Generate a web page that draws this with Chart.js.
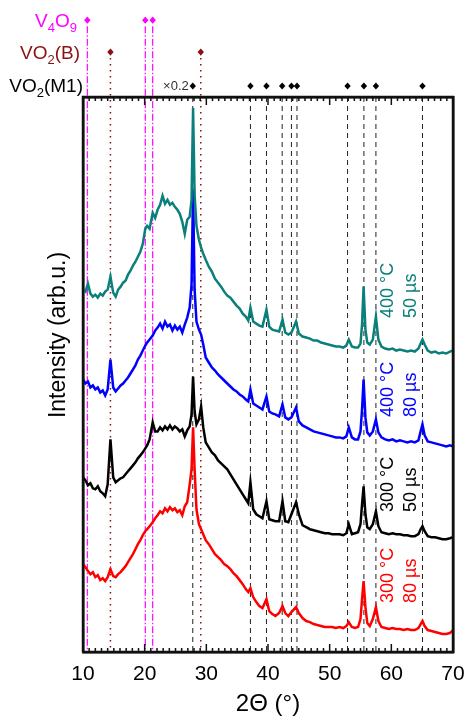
<!DOCTYPE html>
<html>
<head>
<meta charset="utf-8">
<script src="https://cdn.jsdelivr.net/npm/chart.js@4.4.1/dist/chart.umd.min.js"></script>
<style>
    body { margin: 0; background: #fff; }
    canvas { display: block; }
</style>
</head>
<body>
<canvas id="xrd-chart" width="466" height="721"></canvas>
<script>
// 2theta grid shared by all four patterns
const twoTheta = [
    10.0, 10.4, 10.8, 11.2, 11.6, 12.0, 12.4, 12.8, 13.2, 13.6,
    14.0, 14.45, 14.9, 15.3, 15.7, 16.1, 16.5, 16.9, 17.3, 17.7,
    18.1, 18.5, 18.9, 19.3, 19.7, 20.1, 20.4, 20.8, 21.3, 21.7,
    22.1, 22.5, 22.9, 23.3, 23.7, 24.1, 24.5, 24.9, 25.3, 25.7,
    26.1, 26.5, 26.9, 27.3, 27.6, 27.85, 28.1, 28.4, 28.8, 29.15,
    29.5, 29.9, 30.4, 30.9, 31.4, 31.9, 32.4, 32.9, 33.4, 33.9,
    34.4, 34.9, 35.4, 35.9, 36.4, 36.8, 37.15, 37.6, 38.1, 38.6,
    39.1, 39.75, 40.2, 40.7, 41.2, 41.8, 42.35, 42.8, 43.3, 43.8,
    44.55, 45.0, 45.6, 46.2, 46.8, 47.4, 48.0, 48.6, 49.2, 49.8,
    50.4, 51.0, 51.6, 52.2, 52.7, 53.1, 53.6, 54.1, 54.6, 55.0,
    55.25, 55.5, 55.8, 56.1, 56.5, 57.0, 57.5, 57.9, 58.4, 59.0,
    59.6, 60.2, 60.8, 61.4, 62.0, 62.6, 63.2, 63.8, 64.4, 64.75,
    65.05, 65.4, 65.9, 66.5, 67.1, 67.7, 68.3, 68.9, 69.5, 70.0
];

// intensities (arb.u., already offset for stacking)
const int400c50us = [
    363, 361, 369, 359, 356, 358, 355, 359, 357, 361,
    363, 376, 360, 356, 363, 366, 370, 372, 378, 382,
    387, 391, 396, 401, 409, 424, 427, 424, 440, 435,
    443, 448, 457, 449, 453, 448, 450, 446, 443, 439,
    431, 419, 433, 436, 453, 545, 458, 427, 413, 405,
    399, 393, 386, 381, 374, 370, 366, 361, 357, 355,
    351, 347, 344, 339, 336, 332, 345, 331, 329, 327,
    326, 343, 326, 323, 322, 321, 333, 320, 318, 320,
    331, 319, 316, 315, 314, 312, 312, 310, 309, 308,
    307, 306, 306, 305, 307, 313, 306, 305, 305, 309,
    328, 366, 323, 310, 308, 313, 336, 313, 306, 304,
    303, 304, 302, 303, 302, 301, 302, 301, 304, 309,
    313, 308, 302, 300, 301, 299, 300, 299, 301, 302
];
const int400c80us = [
    273, 269, 271, 265, 267, 263, 265, 260, 262, 257,
    263, 293, 265, 261, 264, 267, 269, 272, 275, 279,
    283, 287, 293, 297, 302, 307, 310, 313, 317, 322,
    325, 329, 324, 331, 326, 328, 322, 327, 323, 326,
    320, 328, 335, 345, 368, 463, 363, 331, 323, 318,
    308, 295, 290, 285, 282, 278, 275, 272, 269, 266,
    263, 261, 258, 256, 253, 251, 263, 249, 247, 245,
    243, 256, 241, 239, 238, 236, 248, 235, 233, 235,
    245, 231, 227, 225, 223, 221, 220, 219, 218, 217,
    216, 215, 215, 214, 216, 225, 215, 213, 213, 221,
    243, 273, 235, 220, 217, 221, 233, 220, 215, 213,
    212, 213, 211, 212, 211, 210, 211, 210, 212, 221,
    228, 217, 211, 210, 209, 208, 207, 206, 207, 206
];
const int300c50us = [
    175, 172, 167, 169, 164, 163, 166, 161, 159, 156,
    168, 213, 175, 170, 172, 174, 175, 178, 181, 184,
    187, 190, 194, 197, 200, 204, 207, 213, 230, 221,
    221, 225, 222, 226, 223, 227, 223, 226, 224, 221,
    223, 216, 222, 226, 238, 276, 241, 228, 233, 246,
    225, 210, 205, 200, 197, 192, 189, 186, 183, 178,
    173, 168, 163, 158, 153, 149, 170, 143, 138, 136,
    134, 151, 133, 132, 131, 131, 151, 131, 130, 138,
    150, 138, 127, 125, 123, 122, 121, 120, 119, 119,
    118, 118, 118, 117, 119, 128, 118, 119, 120, 128,
    148, 166, 138, 125, 123, 128, 141, 126, 120, 119,
    118, 119, 118, 118, 117, 117, 116, 116, 118, 123,
    126, 121, 116, 115, 115, 114, 113, 113, 114, 115
];
const int300c80us = [
    88, 85, 81, 78, 80, 75, 77, 72, 74, 71,
    75, 83, 76, 75, 78, 80, 83, 86, 90, 94,
    98, 103, 108, 112, 117, 121, 123, 126, 130, 134,
    137, 141, 139, 144, 141, 145, 142, 144, 140, 142,
    137, 146, 150, 168, 183, 225, 183, 143, 128, 123,
    118, 112, 108, 103, 98, 95, 92, 88, 86, 83,
    79, 76, 72, 68, 63, 60, 64, 55, 50, 46,
    44, 53, 41, 38, 36, 39, 46, 39, 36, 40,
    45, 39, 34, 31, 30, 28, 27, 26, 25, 25,
    25, 24, 25, 24, 26, 30, 25, 24, 25, 33,
    53, 71, 45, 29, 26, 33, 45, 31, 25, 24,
    23, 24, 23, 23, 22, 23, 22, 22, 24, 28,
    31, 26, 22, 21, 20, 19, 18, 18, 19, 22
];

// reference peak positions (2theta)
const v4o9Peaks = [10.7, 20.1, 21.3];
const vo2bPeaks = [14.45, 29.1];
const vo2m1Peaks = [27.8, 37.15, 39.75, 42.3, 43.8, 44.7, 52.9, 55.55, 57.5, 65.05];

const xTicks = [10, 20, 30, 40, 50, 60, 70];
const xMin = 10;
const xMax = 70;
const yMax = 556;
// marker rows sit above the frame, in intensity units
const rowV4O9 = 633;
const rowVO2B = 601;
const rowVO2M1 = 567;

const FONT = "'Liberation Sans', Arial, sans-serif";
const TEAL = '#0b7f7a';
const DARKRED = '#8b1010';
const MAGENTA = '#ff00ff';
const FRAME = '#111111';

function curve(values, color) {
    return {
        data: twoTheta.map((t, i) => ({ x: t, y: values[i] })),
        borderColor: color,
        borderWidth: 2.5,
        pointRadius: 0,
        order: 0
    };
}

function refLines(peaks, top, color, width, dash) {
    return peaks.map(p => ({
        data: [{ x: p, y: top }, { x: p, y: 0 }],
        borderColor: color,
        borderWidth: width,
        borderDash: dash,
        pointRadius: 0,
        clip: false,
        order: 2
    }));
}

// inward tick marks, one short segment per degree, broken by nulls
function tickMarks(edge, dir) {
    const pts = [];
    for (let t = xMin; t <= xMax; t++) {
        const len = t % 10 === 0 ? 8 : 4;
        pts.push({ x: t, y: edge }, { x: t, y: edge + dir * len }, { x: t, y: null });
    }
    return {
        data: pts,
        borderColor: FRAME,
        borderWidth: 1.5,
        pointRadius: 0,
        spanGaps: false,
        clip: false,
        order: -1
    };
}

// plot frame as a closed line on the scales
function frameLine() {
    return {
        data: [
            { x: xMin, y: 0 }, { x: xMax, y: 0 }, { x: xMax, y: yMax },
            { x: xMin, y: yMax }, { x: xMin, y: 0 }
        ],
        borderColor: FRAME,
        borderWidth: 2.5,
        borderJoinStyle: 'miter',
        pointRadius: 0,
        clip: false,
        order: -1
    };
}

// frame sides also come from the scales' own borders
const frameSide = {
    display: true,
    ticks: { display: false },
    grid: { display: false, drawTicks: false },
    border: { display: true, color: FRAME, width: 2.5 }
};

// diamonds above the frame (points outside the chart area are skipped by Chart.js)
function drawDiamonds(ctx, xs, ys, peaks, row, color) {
    ctx.fillStyle = color;
    peaks.forEach(p => {
        const px = xs.getPixelForValue(p);
        const py = ys.getPixelForValue(row);
        ctx.beginPath();
        ctx.moveTo(px, py - 3.6);
        ctx.lineTo(px + 3.2, py);
        ctx.lineTo(px, py + 3.6);
        ctx.lineTo(px - 3.2, py);
        ctx.closePath();
        ctx.fill();
    });
}

// text with subscripts, right aligned
function drawFormula(ctx, parts, xRight, baseline, color) {
    const big = `19px ${FONT}`;
    const small = `13px ${FONT}`;
    let w = 0;
    parts.forEach(p => {
        ctx.font = p[1] ? small : big;
        w += ctx.measureText(p[0]).width;
    });
    let x = xRight - w;
    ctx.fillStyle = color;
    ctx.textAlign = 'left';
    ctx.textBaseline = 'alphabetic';
    parts.forEach(p => {
        ctx.font = p[1] ? small : big;
        ctx.fillText(p[0], x, p[1] ? baseline + 5 : baseline);
        x += ctx.measureText(p[0]).width;
    });
}

function drawUpText(ctx, text, x, yBottom, color, size) {
    ctx.save();
    ctx.translate(x, yBottom);
    ctx.rotate(-Math.PI / 2);
    ctx.fillStyle = color;
    ctx.font = `${size}px ${FONT}`;
    ctx.textAlign = 'left';
    ctx.textBaseline = 'middle';
    ctx.fillText(text, 0, 0);
    ctx.restore();
}

const labelPlugin = {
    id: 'labels',
    afterDraw(chart) {
        const ctx = chart.ctx;
        const xs = chart.scales.x;
        const ys = chart.scales.y;

        ctx.save();
        drawDiamonds(ctx, xs, ys, v4o9Peaks, rowV4O9, MAGENTA);
        drawDiamonds(ctx, xs, ys, vo2bPeaks, rowVO2B, DARKRED);
        drawDiamonds(ctx, xs, ys, vo2m1Peaks, rowVO2M1, '#000');
        ctx.restore();

        // y axis title
        ctx.save();
        ctx.translate(59, 335);
        ctx.rotate(-Math.PI / 2);
        ctx.fillStyle = '#000';
        ctx.font = `23px ${FONT}`;
        ctx.textAlign = 'center';
        ctx.textBaseline = 'middle';
        ctx.fillText('Intensity (arb.u.)', 0, 0);
        ctx.restore();

        // phase labels
        drawFormula(ctx, [['V'], ['4', 1], ['O'], ['9', 1]], 77, 27, MAGENTA);
        drawFormula(ctx, [['VO'], ['2', 1], ['(B)']], 80, 59, DARKRED);
        drawFormula(ctx, [['VO'], ['2', 1], ['(M1)']], 83, 92, '#000');

        ctx.save();
        ctx.fillStyle = '#333';
        ctx.font = `13px ${FONT}`;
        ctx.textAlign = 'right';
        ctx.textBaseline = 'middle';
        ctx.fillText('\u00d70.2', xs.getPixelForValue(vo2m1Peaks[0]) - 4, ys.getPixelForValue(rowVO2M1));
        ctx.restore();

        // sample labels
        const samples = [
            ['400 °C', '50 µs', TEAL, 318],
            ['400 °C', '80 µs', '#0000ff', 417],
            ['300 °C', '50 µs', '#000', 512],
            ['300 °C', '80 µs', '#ff0000', 603]
        ];
        samples.forEach(s => {
            drawUpText(ctx, s[0], 388, s[3], s[2], 18);
            drawUpText(ctx, s[1], 411, s[3], s[2], 18);
        });
    }
};

const ctx = document.getElementById('xrd-chart').getContext('2d');

const xrdChart = new Chart(ctx, {
    type: 'line',
    data: {
        datasets: [
            curve(int400c50us, TEAL),
            curve(int400c80us, '#0000ff'),
            curve(int300c50us, '#000000'),
            curve(int300c80us, '#ff0000'),
            ...refLines(v4o9Peaks, rowV4O9 - 6, MAGENTA, 1.2, [7, 2, 1.5, 2]),
            ...refLines(vo2bPeaks, rowVO2B - 6, DARKRED, 1.5, [1.5, 4.5]),
            ...refLines(vo2m1Peaks, yMax, '#222', 1, [5, 4]),
            tickMarks(0, 1),
            tickMarks(yMax, -1),
            frameLine()
        ]
    },
    options: {
        responsive: false,
        animation: false,
        layout: { padding: { left: 83, right: 13, top: 97, bottom: 2 } },
        plugins: {
            legend: { display: false },
            tooltip: { enabled: false }
        },
        elements: { line: { tension: 0 } },
        scales: {
            x: {
                type: 'linear',
                position: 'bottom',
                min: xMin,
                max: xMax,
                // transparent tick marks only reserve room below the frame
                grid: { display: true, drawOnChartArea: false, drawTicks: true, tickLength: 9, color: 'rgba(0,0,0,0)' },
                border: { display: true, color: FRAME, width: 2.5 },
                afterBuildTicks: scale => {
                    scale.ticks = xTicks.map(v => ({ value: v }));
                },
                ticks: {
                    padding: 1,
                    color: '#000',
                    font: { family: FONT, size: 21 }
                },
                title: {
                    display: true,
                    text: '2\u0398 (°)',
                    color: '#000',
                    font: { family: FONT, size: 24 },
                    padding: { top: 2, bottom: 0 }
                }
            },
            xTop: { type: 'linear', position: 'top', min: xMin, max: xMax, ...frameSide },
            y: { type: 'linear', position: 'left', min: 0, max: yMax, ...frameSide },
            yRight: { type: 'linear', position: 'right', min: 0, max: yMax, ...frameSide }
        }
    },
    plugins: [labelPlugin]
});
</script>
</body>
</html>
